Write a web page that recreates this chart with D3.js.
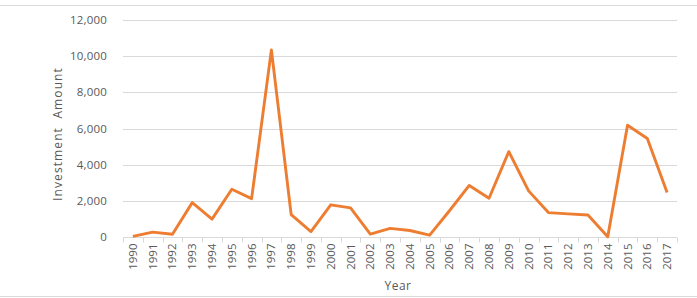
<!DOCTYPE html>
<html>
<head>
<meta charset="utf-8">
<script src="https://cdn.jsdelivr.net/npm/d3@7"></script>
<style>
  body { margin: 0; background: #fff; }
  svg { display: block; font-family: "Open Sans", "Liberation Sans", sans-serif; }
</style>
</head>
<body>
<div id="chart"></div>
<script>
const years = d3.range(1990, 2018).map(String);
const amounts = [30, 270, 150, 1900, 990, 2640, 2120, 10350, 1240, 300, 1780, 1610,
  160, 480, 360, 100, 1450, 2850, 2140, 4720, 2550, 1350, 1280, 1220, 10, 6180, 5450, 2460];
const yTicks = [0, 2000, 4000, 6000, 8000, 10000, 12000];

const width = 697, height = 298;
const margin = { top: 20, right: 20, bottom: 61, left: 123 };

const svg = d3.select("#chart").append("svg")
  .attr("width", width)
  .attr("height", height);

// chart frame lines
svg.append("line").attr("x1", 0).attr("x2", width).attr("y1", 5.5).attr("y2", 5.5)
  .attr("stroke", "#d9d9d9");
svg.append("line").attr("x1", 0).attr("x2", width).attr("y1", 296.5).attr("y2", 296.5)
  .attr("stroke", "#d9d9d9");

const x = d3.scaleBand(years, [margin.left, width - margin.right]);
const y = d3.scaleLinear([0, 12000], [height - margin.bottom, margin.top]);

// gridlines
svg.append("g")
  .selectAll("line")
  .data(yTicks.slice(1))
  .join("line")
    .attr("x1", margin.left)
    .attr("x2", width - margin.right)
    .attr("y1", d => Math.round(y(d)) + 0.5)
    .attr("y2", d => Math.round(y(d)) + 0.5)
    .attr("stroke", "#d9d9d9");

// y axis labels
svg.append("g")
  .selectAll("text")
  .data(yTicks)
  .join("text")
    .attr("x", 107)
    .attr("y", d => y(d))
    .attr("dy", "0.35em")
    .attr("text-anchor", "end")
    .attr("font-size", 11.5)
    .attr("letter-spacing", 0.2)
    .attr("fill", "#595959")
    .text(d => d3.format(",")(d));

// x axis line + ticks
const x0 = Math.round(y(0)) + 0.5;
svg.append("line")
  .attr("x1", margin.left).attr("x2", width - margin.right)
  .attr("y1", x0).attr("y2", x0)
  .attr("stroke", "#d9d9d9");
svg.append("g")
  .selectAll("line")
  .data(years.concat(["end"]))
  .join("line")
    .attr("x1", (d, i) => Math.round(margin.left + i * x.step()) + 0.5)
    .attr("x2", (d, i) => Math.round(margin.left + i * x.step()) + 0.5)
    .attr("y1", x0)
    .attr("y2", x0 + 5)
    .attr("stroke", "#d9d9d9");

// x labels (rotated)
svg.append("g")
  .selectAll("text")
  .data(years)
  .join("text")
    .attr("transform", d => `translate(${x(d) + x.bandwidth() / 2},${x0 + 6}) rotate(-90)`)
    .attr("text-anchor", "end")
    .attr("dy", "0.35em")
    .attr("font-size", 11.5)
    .attr("fill", "#595959")
    .text(d => d);

// axis titles
svg.append("text")
  .attr("transform", `translate(58,134) rotate(-90)`)
  .attr("text-anchor", "middle")
  .attr("dy", "0.35em")
  .attr("font-size", 12)
  .attr("letter-spacing", 1.1)
  .attr("fill", "#595959")
  .attr("xml:space", "preserve")
  .text("Investment  Amount");

svg.append("text")
  .attr("x", 398)
  .attr("y", 286)
  .attr("dy", "0.35em")
  .attr("text-anchor", "middle")
  .attr("font-size", 12)
  .attr("letter-spacing", 0.5)
  .attr("fill", "#595959")
  .text("Year");

// the line
const line = d3.line()
  .x((d, i) => x(years[i]) + x.bandwidth() / 2)
  .y(d => y(d));

svg.append("path")
  .datum(amounts)
  .attr("fill", "none")
  .attr("stroke", "#ED7D31")
  .attr("stroke-width", 2.9)
  .attr("stroke-linejoin", "round")
  .attr("d", line);
</script>
</body>
</html>
